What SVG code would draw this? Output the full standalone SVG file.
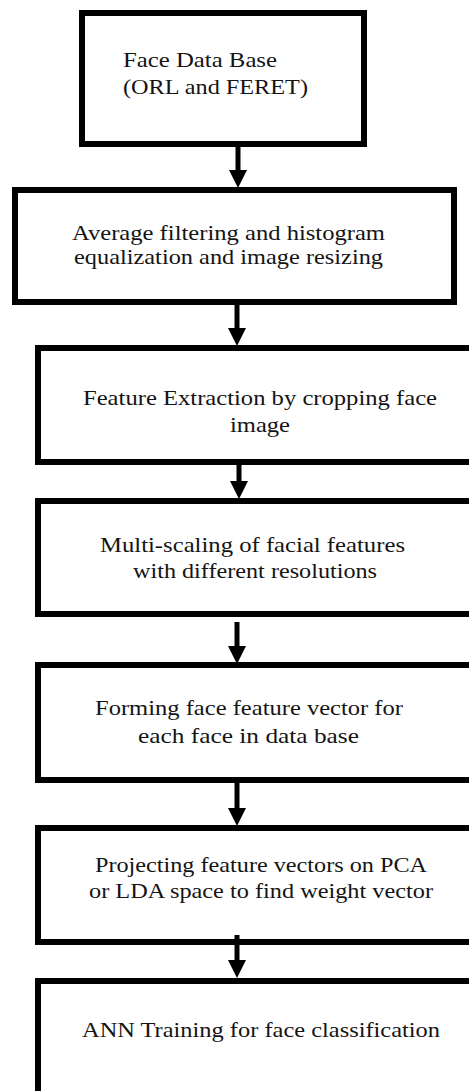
<svg xmlns="http://www.w3.org/2000/svg" width="469" height="1091" viewBox="0 0 469 1091">
  <style>
    .box { fill: #ffffff; stroke: #000000; stroke-width: 6; }
    .lbl { font-family: "Liberation Serif", "Times New Roman", serif; font-size: 22px; fill: #141414; }
    .sm { font-size: 21px; }
    .conn { stroke: #000000; stroke-width: 5; fill: none; }
  </style>
  <defs>
    <marker id="ah" viewBox="0 0 18 18" markerWidth="18" markerHeight="18" refX="0" refY="9" orient="auto" markerUnits="userSpaceOnUse">
      <path d="M0,0 L18,9 L0,18 z" fill="#000000"/>
    </marker>
  </defs>
  <rect x="0" y="0" width="469" height="1091" fill="#ffffff"/>

  <g id="node1">
    <rect class="box" x="82" y="13" width="282" height="131"/>
    <text class="lbl" x="123" y="67" textLength="154" lengthAdjust="spacingAndGlyphs">Face Data Base</text>
    <text class="lbl" x="123" y="94" textLength="185" lengthAdjust="spacingAndGlyphs">(ORL and FERET)</text>
  </g>
  <g id="node2">
    <rect class="box" x="15" y="190" width="439" height="112"/>
    <text class="lbl sm" x="72" y="240" textLength="313" lengthAdjust="spacingAndGlyphs">Average filtering  and histogram</text>
    <text class="lbl sm" x="74" y="264" textLength="309" lengthAdjust="spacingAndGlyphs">equalization and image resizing</text>
  </g>
  <g id="node3">
    <rect class="box" x="38" y="348" width="440" height="114"/>
    <text class="lbl" x="83" y="405" textLength="354" lengthAdjust="spacingAndGlyphs">Feature Extraction by cropping face</text>
    <text class="lbl" x="230" y="432" textLength="60" lengthAdjust="spacingAndGlyphs">image</text>
  </g>
  <g id="node4">
    <rect class="box" x="38" y="501" width="440" height="113"/>
    <text class="lbl" x="100" y="552" textLength="305" lengthAdjust="spacingAndGlyphs">Multi-scaling of facial features</text>
    <text class="lbl" x="133" y="578" textLength="244" lengthAdjust="spacingAndGlyphs">with different resolutions</text>
  </g>
  <g id="node5">
    <rect class="box" x="38" y="665" width="440" height="115"/>
    <text class="lbl" x="95" y="715" textLength="308" lengthAdjust="spacingAndGlyphs">Forming face feature vector for</text>
    <text class="lbl" x="138" y="743" textLength="221" lengthAdjust="spacingAndGlyphs">each face in data base</text>
  </g>
  <g id="node6">
    <rect class="box" x="38" y="828" width="440" height="114"/>
    <text class="lbl" x="95" y="872" textLength="332" lengthAdjust="spacingAndGlyphs">Projecting feature vectors on PCA</text>
    <text class="lbl" x="89" y="898" textLength="344" lengthAdjust="spacingAndGlyphs">or LDA space to find weight vector</text>
  </g>
  <g id="node7">
    <rect class="box" x="38" y="981" width="440" height="200"/>
    <text class="lbl" x="82" y="1037" textLength="358" lengthAdjust="spacingAndGlyphs">ANN Training  for face classification</text>
  </g>

  <g id="connectors">
    <line class="conn" x1="238" y1="147" x2="238" y2="170" marker-end="url(#ah)"/>
    <line class="conn" x1="237" y1="305" x2="237" y2="328" marker-end="url(#ah)"/>
    <line class="conn" x1="239" y1="465" x2="239" y2="481" marker-end="url(#ah)"/>
    <line class="conn" x1="237" y1="622" x2="237" y2="646" marker-end="url(#ah)"/>
    <line class="conn" x1="237" y1="783" x2="237" y2="808" marker-end="url(#ah)"/>
    <line class="conn" x1="237" y1="935" x2="237" y2="960" marker-end="url(#ah)"/>
  </g>
</svg>
